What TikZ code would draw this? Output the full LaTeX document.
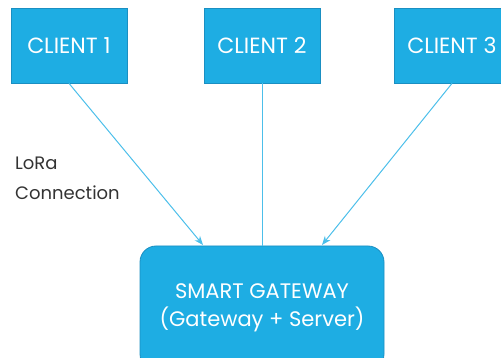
\documentclass[tikz,border=0pt]{standalone}
\usepackage{fontspec}
\setmainfont{Poppins}
\usetikzlibrary{arrows.meta}
\definecolor{boxfill}{HTML}{1EADE3}
\definecolor{boxedge}{HTML}{1A8FC2}
\definecolor{linkcol}{HTML}{4CBFEA}
\definecolor{txt}{HTML}{333333}
\begin{document}
\begin{tikzpicture}[x=1pt,y=-1pt,
  client/.style={draw=boxedge,fill=boxfill,line width=0.8pt,minimum width=116pt,minimum height=75pt,inner sep=0pt,text=white,font=\fontsize{22}{26}\selectfont},
  gw/.style={draw=boxedge,fill=boxfill,line width=0.8pt,rounded corners=16pt,minimum width=244pt,minimum height=124pt,inner sep=0pt,text=white,align=center,font=\fontsize{21}{28}\selectfont},
  link/.style={draw=linkcol,line width=1pt},
  arr/.style={link,-{Stealth[length=9pt,width=7pt]}}]
\useasboundingbox (0,0) rectangle (501,358);
\node[client] (c1) at (69,45.5) {CLIENT 1};
\node[client] (c2) at (262,45.5) {CLIENT 2};
\node[client] (c3) at (452,45.5) {CLIENT 3};
\node[gw] (g) at (262,308) {SMART GATEWAY\\(Gateway + Server)};
\coordinate (g1) at (203,245);
\coordinate (g3) at (322,245);
\draw[arr] (c1.south) -- (g1);
\draw[link] (c2.south) -- (c2.south |- g.north);
\draw[arr] (c3.south) -- (g3);
\node[anchor=west,align=left,text=txt,font=\fontsize{18}{30}\selectfont,inner sep=0pt] (lora) at (15,178) {LoRa\\Connection};
\end{tikzpicture}
\end{document}
